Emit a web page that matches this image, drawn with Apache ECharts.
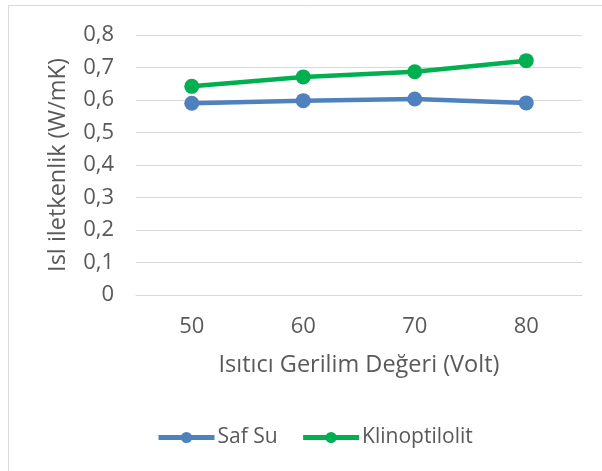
<!DOCTYPE html>
<html>
<head>
<meta charset="utf-8">
<script src="https://cdn.jsdelivr.net/npm/echarts@6/dist/echarts.min.js"></script>
<style>
  html, body { margin: 0; padding: 0; background: #ffffff; }
  #chart { width: 602px; height: 471px; }
</style>
</head>
<body>
<div id="chart"></div>
<script>
// Heater voltage categories (Volt)
const voltages = ['50', '60', '70', '80'];
// Thermal conductivity (W/mK) for each fluid
const safSu = [0.590, 0.598, 0.603, 0.591];
const klinoptilolit = [0.642, 0.671, 0.687, 0.721];
const seriesNames = ['Saf Su', 'Klinoptilolit'];

const textColor = '#595959';
const fontFamily = '"Open Sans", "Noto Sans", sans-serif';
const fontSize = 22;

const chart = echarts.init(document.getElementById('chart'), null, { renderer: 'canvas' });

const lineSeries = (name, data, color) => ({
  name: name,
  type: 'line',
  data: data,
  symbol: 'circle',
  symbolSize: 15,
  lineStyle: { width: 4.5, color: color },
  itemStyle: { color: color },
  emphasis: { disabled: true },
  animation: false
});

chart.setOption({
  animation: false,
  backgroundColor: '#ffffff',
  graphic: [{
    type: 'rect',
    shape: { x: 8.5, y: 5.5, width: 620, height: 500 },
    style: { fill: 'none', stroke: '#d9d9d9', lineWidth: 1 },
    silent: true
  }],
  grid: { left: 136, right: 20, top: 35, bottom: 176 },
  legend: {
    data: seriesNames,
    bottom: 18,
    left: 151,
    itemWidth: 56,
    itemHeight: 14,
    itemGap: 23,
    lineStyle: { width: 5 },
    textStyle: { color: textColor, fontFamily: fontFamily, fontSize: 21, padding: [0, 0, 0, -2] }
  },
  xAxis: {
    type: 'category',
    data: voltages,
    boundaryGap: true,
    name: 'Isıtıcı Gerilim Değeri (Volt)',
    nameLocation: 'middle',
    nameGap: 58,
    nameTextStyle: { color: textColor, fontFamily: fontFamily, fontSize: 23.5 },
    axisLine: { show: true, lineStyle: { color: '#d9d9d9', width: 1 } },
    axisTick: { show: false },
    axisLabel: { color: textColor, fontFamily: fontFamily, fontSize: fontSize, margin: 21 }
  },
  yAxis: {
    type: 'value',
    min: 0,
    max: 0.8,
    interval: 0.1,
    name: 'Isl iletkenlik (W/mK)',
    nameLocation: 'middle',
    nameGap: 66,
    nameMoveOverlap: false,
    nameTextStyle: { color: textColor, fontFamily: fontFamily, fontSize: 23.5 },
    axisLine: { show: false },
    axisTick: { show: false },
    splitLine: { lineStyle: { color: '#d9d9d9', width: 1 } },
    axisLabel: {
      color: textColor,
      fontFamily: fontFamily,
      fontSize: fontSize,
      margin: 22,
      formatter: v => v === 0 ? '0' : v.toFixed(1).replace('.', ',')
    }
  },
  series: [
    lineSeries(seriesNames[0], safSu, '#4f81bd'),
    lineSeries(seriesNames[1], klinoptilolit, '#00b050')
  ]
});
</script>
</body>
</html>
